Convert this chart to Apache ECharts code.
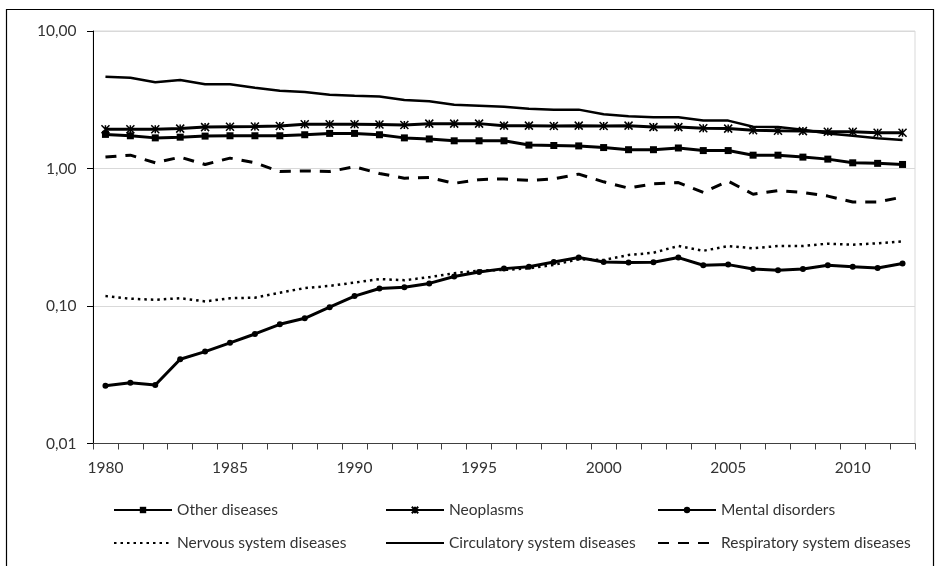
<!DOCTYPE html>
<html><head><meta charset="utf-8">
<script src="https://cdn.jsdelivr.net/npm/echarts@6/dist/echarts.min.js"></script>
<style>html,body{margin:0;padding:0;background:#fff}#c{width:935px;height:566px}</style>
</head><body><div id="c"></div>
<script>
const years = ['1980','1981','1982','1983','1984','1985','1986','1987','1988','1989','1990','1991','1992','1993','1994','1995','1996','1997','1998','1999','2000','2001','2002','2003','2004','2005','2006','2007','2008','2009','2010','2011','2012'];
const otherDiseases = [1.77,1.73,1.67,1.69,1.72,1.73,1.73,1.73,1.76,1.80,1.80,1.76,1.67,1.64,1.59,1.59,1.59,1.48,1.47,1.46,1.42,1.37,1.37,1.41,1.35,1.35,1.25,1.25,1.21,1.17,1.10,1.09,1.07];
const neoplasms = [1.93,1.93,1.93,1.95,2.00,2.01,2.02,2.04,2.10,2.10,2.10,2.09,2.07,2.12,2.12,2.12,2.05,2.05,2.04,2.05,2.04,2.05,2.00,2.00,1.96,1.95,1.90,1.88,1.87,1.85,1.85,1.82,1.82];
const mentalDisorders = [0.0263,0.0277,0.0266,0.041,0.0466,0.054,0.0626,0.0736,0.0814,0.098,0.118,0.134,0.137,0.146,0.164,0.177,0.187,0.193,0.209,0.225,0.209,0.207,0.208,0.225,0.198,0.200,0.186,0.182,0.186,0.198,0.193,0.189,0.204];
const nervousSystem = [0.118,0.113,0.111,0.114,0.108,0.114,0.115,0.125,0.135,0.140,0.148,0.157,0.154,0.162,0.173,0.181,0.183,0.188,0.199,0.219,0.216,0.235,0.244,0.273,0.252,0.273,0.263,0.273,0.273,0.284,0.279,0.286,0.295];
const circulatory = [4.65,4.57,4.24,4.40,4.10,4.10,3.87,3.68,3.60,3.44,3.38,3.34,3.15,3.08,2.91,2.86,2.81,2.72,2.68,2.68,2.48,2.40,2.36,2.36,2.23,2.23,2.01,2.00,1.91,1.80,1.73,1.66,1.61];
const respiratory = [1.21,1.25,1.10,1.21,1.07,1.19,1.10,0.95,0.96,0.95,1.03,0.92,0.85,0.86,0.78,0.83,0.84,0.82,0.84,0.91,0.80,0.72,0.775,0.79,0.67,0.81,0.65,0.69,0.67,0.63,0.57,0.57,0.62];
const yTicks = ['0,01','0,10','1,00','10,00'];

const FONT = 'Lato';
const FS = 15.5;
const TXT = '#333333';
const chart = echarts.init(document.getElementById('c'), null, {renderer:'canvas'});
const starPath = 'path://M0,0L10,10M10,0L0,10M5,0L5,10';
function legendAt(name, left, top, noMarker){
  const item = noMarker ? {name:name, itemStyle:{color:'rgba(0,0,0,0)', borderColor:'rgba(0,0,0,0)', borderWidth:0}} : name;
  return {data:[item], left:left, top:top, orient:'horizontal', itemWidth:58, itemHeight:8, itemGap:0,
    textStyle:{fontFamily:FONT, fontSize:FS, color:TXT}, selectedMode:false};
}
function lineSeries(name, data, extra){
  return Object.assign({name:name, type:'line', data:data, animation:false,
    lineStyle:{color:'#000', width:3}, itemStyle:{color:'#000'}, symbol:'none', z:2}, extra);
}
chart.setOption({
  animation:false,
  grid:{left:93, right:20, top:31, bottom:122.5, show:true, borderColor:'#d9d9d9', borderWidth:1},
  graphic:[{type:'rect', shape:{x:6.5, y:9.5, width:927, height:600}, style:{fill:'none', stroke:'#000', lineWidth:1.2}, silent:true}],
  xAxis:{type:'category', data:years, boundaryGap:true,
    axisLine:{lineStyle:{color:'#404040', width:1}},
    axisTick:{show:true, interval:0, length:6, lineStyle:{color:'#404040'}},
    axisLabel:{interval:4, margin:16, fontFamily:FONT, fontSize:FS, color:TXT},
    splitLine:{show:false}},
  yAxis:{type:'log', logBase:10, min:0.01, max:10,
    axisLine:{show:true, lineStyle:{color:'#000', width:1}},
    axisTick:{show:true, length:6, lineStyle:{color:'#000'}},
    axisLabel:{margin:16.5, fontFamily:FONT, fontSize:FS, color:TXT,
      formatter:function(v){ const i = Math.round(Math.log10(v)) + 2; return yTicks[i]; }},
    splitLine:{show:true, lineStyle:{color:'#d9d9d9', width:1}},
    minorTick:{show:false}},
  legend:[
    legendAt('Other diseases', 108, 497),
    legendAt('Neoplasms', 380, 497),
    legendAt('Mental disorders', 652, 497),
    legendAt('Nervous system diseases', 108, 530, true),
    legendAt('Circulatory system diseases', 380, 530, true),
    legendAt('Respiratory system diseases', 652, 530, true)
  ],
  series:[
    lineSeries('Other diseases', otherDiseases, {symbol:'rect', symbolSize:7, showSymbol:true}),
    lineSeries('Neoplasms', neoplasms, {symbol:starPath, symbolSize:8, showSymbol:true, itemStyle:{color:'#000', borderColor:'#000', borderWidth:1.5}}),
    lineSeries('Mental disorders', mentalDisorders, {symbol:'circle', symbolSize:6, showSymbol:true}),
    lineSeries('Nervous system diseases', nervousSystem, {lineStyle:{color:'#000', width:2.5, type:[2.5,4]}}),
    lineSeries('Circulatory system diseases', circulatory, {lineStyle:{color:'#000', width:2.5}}),
    lineSeries('Respiratory system diseases', respiratory, {lineStyle:{color:'#000', width:3, type:[11,9]}})
  ]
});
</script></body></html>
